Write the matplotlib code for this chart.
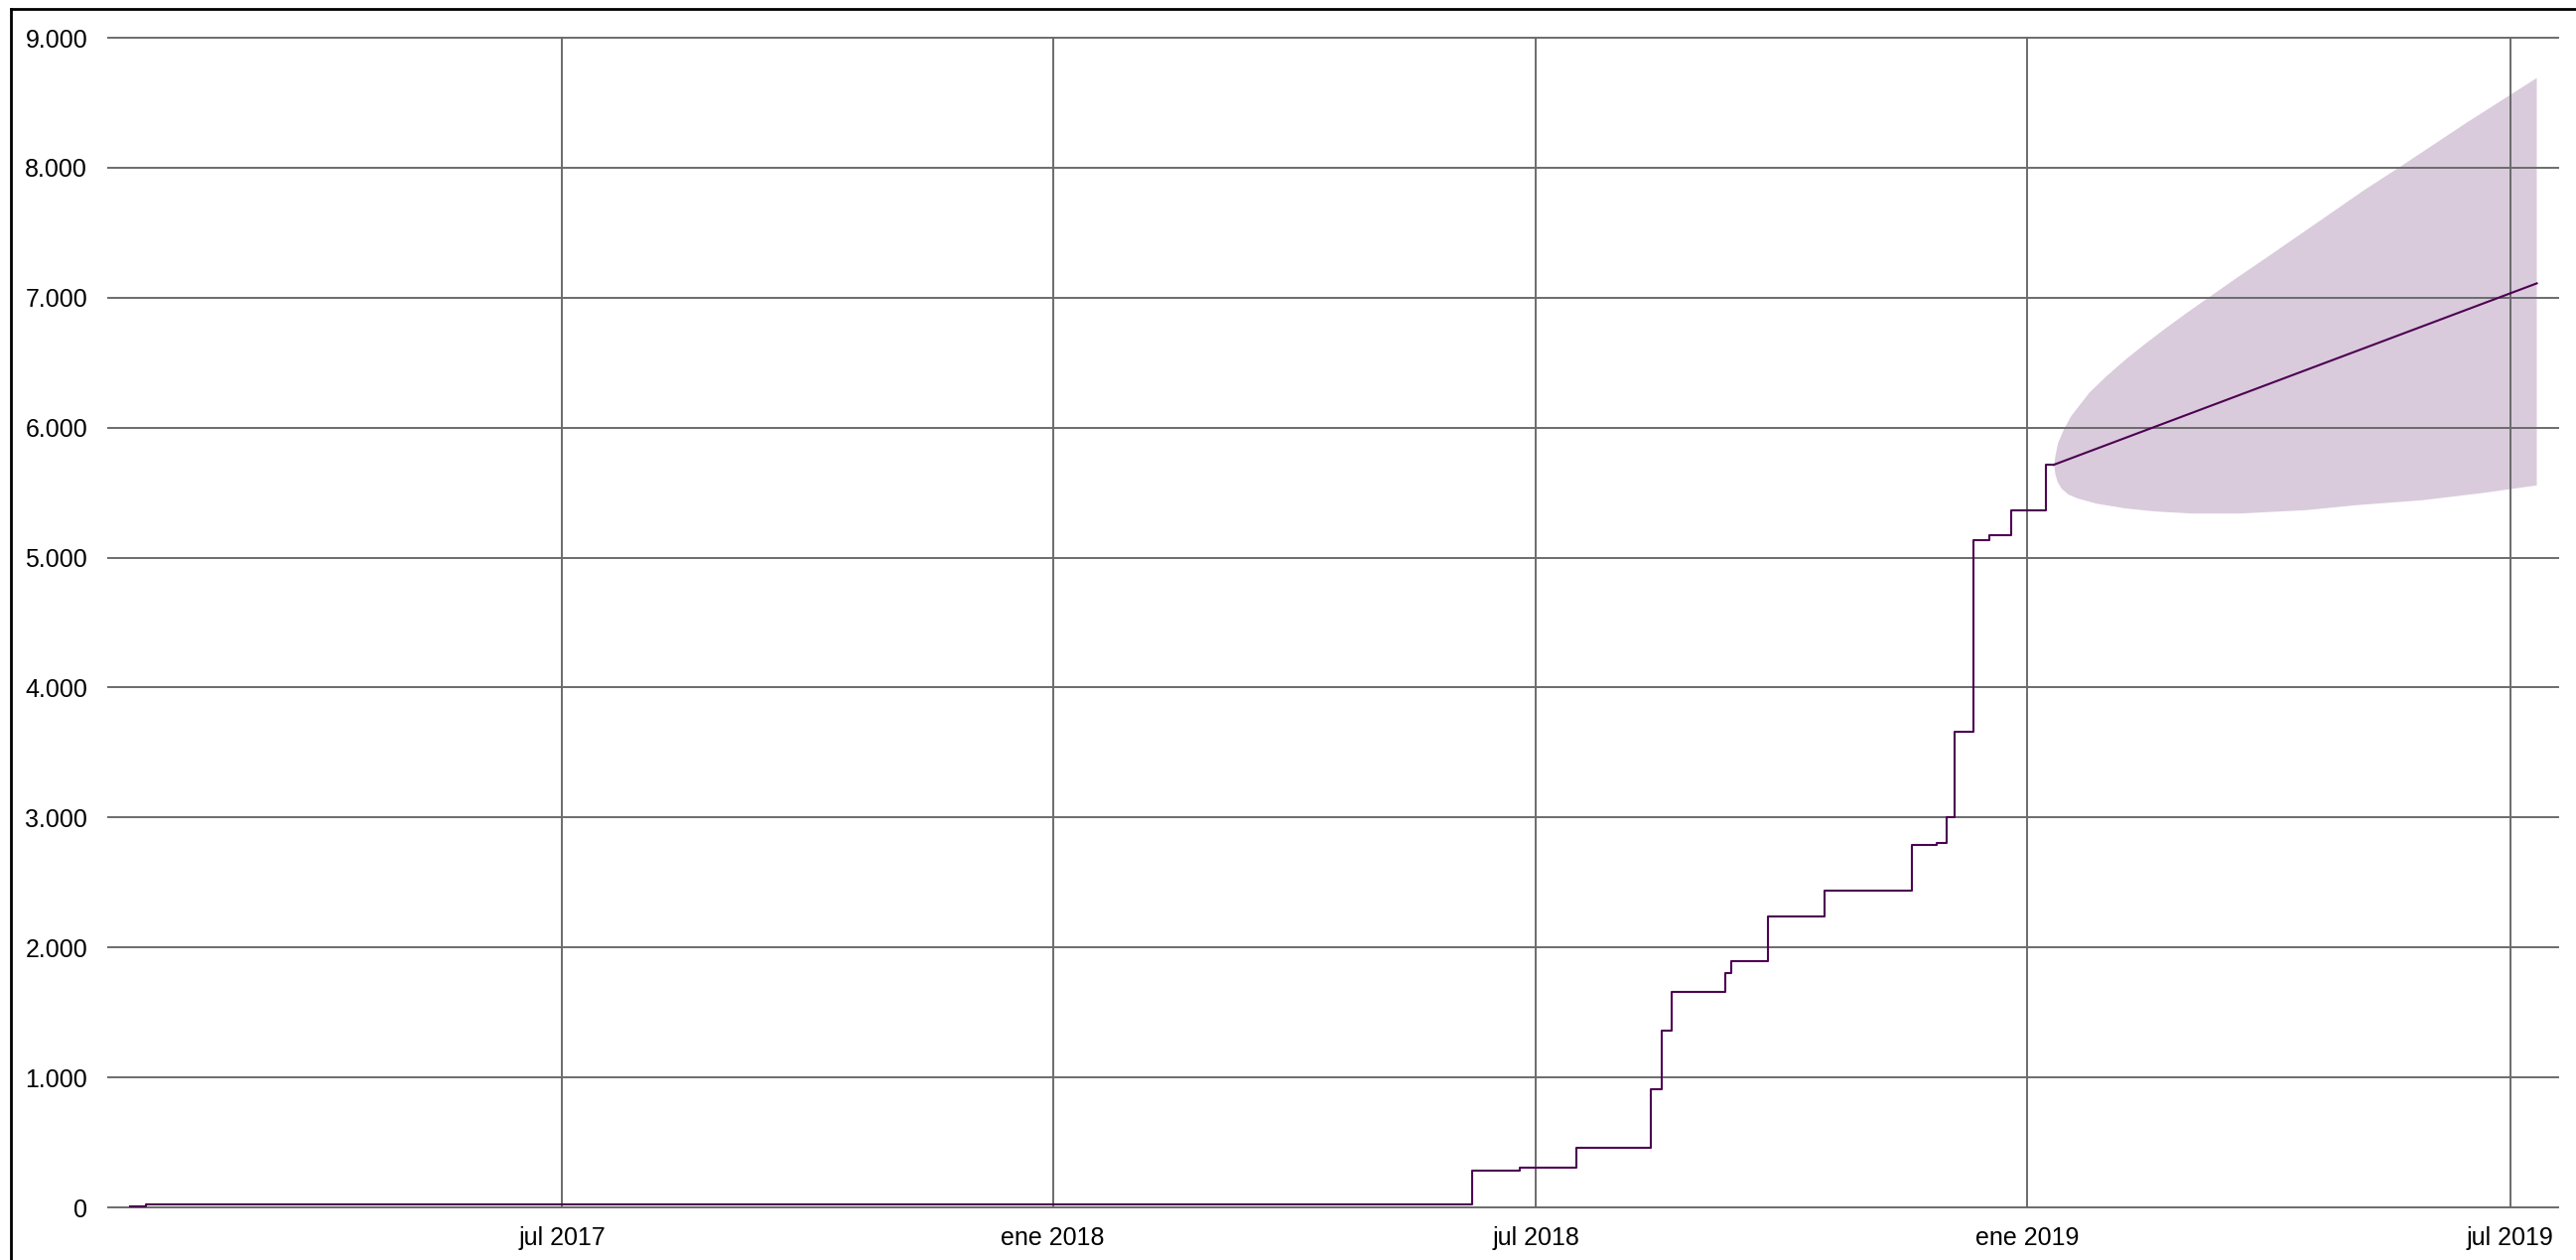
import matplotlib
matplotlib.use('Agg')
import matplotlib.pyplot as plt
import matplotlib.dates as mdates
from matplotlib.lines import Line2D
from matplotlib.ticker import FuncFormatter
import pandas as pd

plt.rcParams['font.family'] = ['Liberation Sans', 'DejaVu Sans']

# cumulative count (step series)
step_dates = ['2017-01-20', '2017-01-26', '2018-06-07', '2018-06-25', '2018-07-16',
              '2018-08-13', '2018-08-17', '2018-08-21', '2018-09-10', '2018-09-12',
              '2018-09-26', '2018-10-17', '2018-11-19', '2018-11-28', '2018-12-02',
              '2018-12-05', '2018-12-12', '2018-12-18', '2018-12-26', '2019-01-08',
              '2019-01-11']
step_values = [10, 20, 280, 308, 459,
               910, 1360, 1659, 1806, 1896,
               2237, 2438, 2787, 2805, 3006,
               3658, 5135, 5173, 5365, 5714,
               5714]

# forecast line
fc_dates = ['2019-01-11', '2019-07-11']
fc_values = [5714, 7110]

# forecast interval (days after 2019-01-01)
upper_days = [10.2, 10.4, 10.7, 11.6, 13.9, 16.6, 23.4, 30, 37, 44, 52, 60, 68, 79, 90.3, 108.3, 126.3, 139.3, 165, 191]
upper_vals = [5714, 5750, 5790, 5880, 5990, 6090, 6270, 6400, 6525, 6640, 6765, 6885, 7000, 7158, 7316, 7571, 7827, 8000, 8350, 8690]
lower_days = [10.2, 10.4, 10.7, 11.5, 12.9, 15.5, 19.1, 26, 36.9, 48, 61.7, 79.8, 104.6, 123.2, 148, 170, 191]
lower_vals = [5714, 5670, 5633, 5580, 5531, 5485, 5454, 5415, 5378, 5355, 5339, 5339, 5365, 5403, 5441, 5495, 5555]

xticks = ['2017-07-01', '2018-01-01', '2018-07-01', '2019-01-01', '2019-07-01']
xtick_labels = ['jul 2017', 'ene 2018', 'jul 2018', 'ene 2019', 'jul 2019']
yticks = [0, 1000, 2000, 3000, 4000, 5000, 6000, 7000, 8000, 9000]

line_col = '#4d0052'
band_col = '#d9cbdc'
grid_col = '#6b6b6b'

fig = plt.figure(figsize=(25.95, 12.69), dpi=100)
ax = fig.add_axes([109 / 2595, 1 - 1216 / 1269, (2577 - 109) / 2595, (1216 - 38) / 1269])

base = pd.Timestamp('2019-01-01')
up_x = [base + pd.Timedelta(days=d) for d in upper_days]
lo_x = [base + pd.Timedelta(days=d) for d in lower_days]
poly_x = up_x + lo_x[::-1]
poly_y = upper_vals + lower_vals[::-1]
ax.fill(mdates.date2num(poly_x), poly_y, color=band_col, lw=0, zorder=1)

ax.step(pd.to_datetime(step_dates), step_values, where='post', color=line_col, lw=1.5, zorder=3)
ax.plot(pd.to_datetime(fc_dates), fc_values, color=line_col, lw=1.5, zorder=3)

ax.set_xlim(pd.Timestamp('2017-01-12'), pd.Timestamp('2019-07-19'))
ax.set_ylim(0, 9000)
ax.set_xticks(pd.to_datetime(xticks))
ax.set_xticklabels(xtick_labels)
ax.set_yticks(yticks)
ax.yaxis.set_major_formatter(FuncFormatter(lambda v, p: f'{int(v):,}'.replace(',', '.')))

ax.grid(True, color=grid_col, lw=1.4, zorder=2)
ax.set_axisbelow(False)
for t in ax.xaxis.get_major_ticks() + ax.yaxis.get_major_ticks():
    t.gridline.set_clip_on(False)
    t.gridline.set_zorder(2)

for s in ax.spines.values():
    s.set_visible(False)
ax.tick_params(axis='both', length=0, labelsize=18, colors='black')
ax.tick_params(axis='y', pad=15)
ax.tick_params(axis='x', pad=14)
ax.set_facecolor('none')

# outer frame (top and left edges visible)
fig.add_artist(Line2D([11 / 2595, 11 / 2595], [0, 1 - 9 / 1269], color='black', lw=2))
fig.add_artist(Line2D([11 / 2595, 1], [1 - 9 / 1269, 1 - 9 / 1269], color='black', lw=2))

fig.savefig('out.png', dpi=100)
